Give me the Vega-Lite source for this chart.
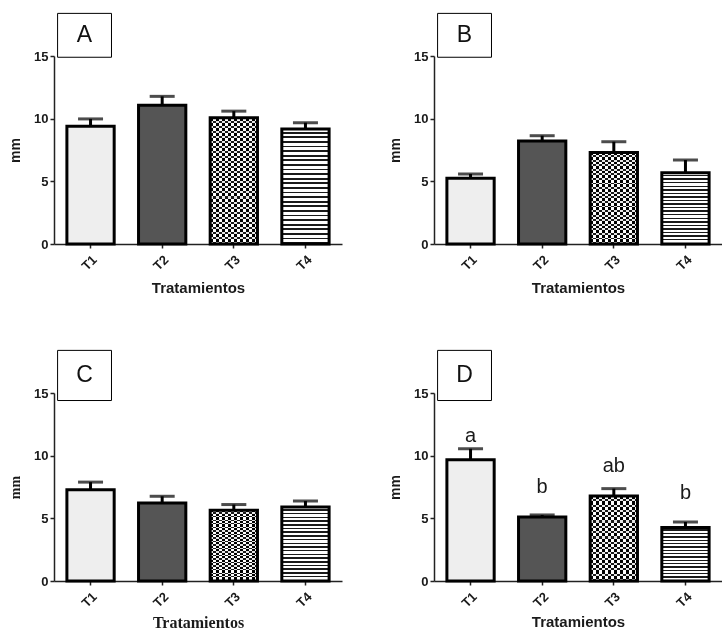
{
  "$schema": "https://vega.github.io/schema/vega-lite/v6.json",
  "padding": {"left": 8, "top": 12, "right": 0, "bottom": 0},
  "background": "white",
  "spacing": 53,
  "config": {
    "view": {"stroke": null},
    "axis": {
      "grid": false,
      "domainColor": "#222",
      "domainWidth": 1.5,
      "tickColor": "#222",
      "tickWidth": 1.5,
      "tickSize": 4,
      "labelFont": "Liberation Sans",
      "labelFontWeight": "bold",
      "labelFontSize": 13,
      "labelColor": "#1a1a1a",
      "titleFont": "Liberation Sans",
      "titleFontWeight": "bold",
      "titleColor": "#1a1a1a"
    },
    "axisX": {"labelAngle": -45, "labelPadding": 5, "titlePadding": 6, "titleFontSize": 15},
    "axisY": {"titleFontSize": 14, "titlePadding": 11, "labelPadding": 2}
  },
  "datasets": {
    "d": [
      {"p": "A", "t": "T1", "mean": 9.39, "hi": 9.98},
      {"p": "A", "t": "T2", "mean": 11.07, "hi": 11.78},
      {"p": "A", "t": "T3", "mean": 10.08, "hi": 10.6},
      {"p": "A", "t": "T4", "mean": 9.18, "hi": 9.68},
      {"p": "B", "t": "T1", "mean": 5.24, "hi": 5.59},
      {"p": "B", "t": "T2", "mean": 8.22, "hi": 8.64},
      {"p": "B", "t": "T3", "mean": 7.31, "hi": 8.16},
      {"p": "B", "t": "T4", "mean": 5.69, "hi": 6.7},
      {"p": "C", "t": "T1", "mean": 7.29, "hi": 7.89},
      {"p": "C", "t": "T2", "mean": 6.22, "hi": 6.76},
      {"p": "C", "t": "T3", "mean": 5.64, "hi": 6.1},
      {"p": "C", "t": "T4", "mean": 5.9, "hi": 6.38},
      {"p": "D", "t": "T1", "mean": 9.67, "hi": 10.55, "lab": "a", "laby": 11.6},
      {"p": "D", "t": "T2", "mean": 5.11, "hi": 5.27, "lab": "b", "laby": 7.5},
      {"p": "D", "t": "T3", "mean": 6.78, "hi": 7.37, "lab": "ab", "laby": 9.2},
      {"p": "D", "t": "T4", "mean": 4.27, "hi": 4.71, "lab": "b", "laby": 7.05}
    ]
  },
  "vconcat": [
    {
      "spacing": 46,
      "hconcat": [
        {
          "width": 288, "height": 188,
          "data": {"name": "d"},
          "transform": [{"filter": "datum.p === 'A'"}],
          "encoding": {"x": {"field": "t", "type": "nominal", "sort": ["T1", "T2", "T3", "T4"], "scale": {"paddingInner": 0.34, "paddingOuter": 0.18}, "axis": {"title": "Tratamientos", "titlePadding": 8}}},
          "layer": [
            {"mark": {"type": "rule", "strokeWidth": 3, "color": "black"}, "encoding": {"y": {"field": "mean", "type": "quantitative", "scale": {"domain": [0, 15], "nice": false}, "axis": {"title": "mm", "values": [0, 5, 10, 15]}}, "y2": {"field": "hi"}}},
            {"mark": {"type": "tick", "thickness": 3, "size": 25, "color": "black"}, "encoding": {"y": {"field": "hi", "type": "quantitative"}}},
            {"mark": {"type": "bar", "strokeWidth": 0}, "encoding": {"y": {"field": "mean", "type": "quantitative"},
              "fill": {"condition": [{"test": "datum.t === 'T1'", "value": "#eeeeee"}, {"test": "datum.t === 'T2'", "value": "#555555"}],
                "value": {"gradient": "linear", "x1": 0, "y1": 0, "x2": 0, "y2": 1, "stops": [
                  {"offset": 0.024, "color": "#fff"}, {"offset": 0.024, "color": "#1a1a1a"}, {"offset": 0.04, "color": "#1a1a1a"}, {"offset": 0.04, "color": "#fff"},
                  {"offset": 0.064, "color": "#fff"}, {"offset": 0.064, "color": "#1a1a1a"}, {"offset": 0.08, "color": "#1a1a1a"}, {"offset": 0.08, "color": "#fff"},
                  {"offset": 0.104, "color": "#fff"}, {"offset": 0.104, "color": "#1a1a1a"}, {"offset": 0.12, "color": "#1a1a1a"}, {"offset": 0.12, "color": "#fff"},
                  {"offset": 0.144, "color": "#fff"}, {"offset": 0.144, "color": "#1a1a1a"}, {"offset": 0.16, "color": "#1a1a1a"}, {"offset": 0.16, "color": "#fff"},
                  {"offset": 0.184, "color": "#fff"}, {"offset": 0.184, "color": "#1a1a1a"}, {"offset": 0.2, "color": "#1a1a1a"}, {"offset": 0.2, "color": "#fff"},
                  {"offset": 0.224, "color": "#fff"}, {"offset": 0.224, "color": "#1a1a1a"}, {"offset": 0.24, "color": "#1a1a1a"}, {"offset": 0.24, "color": "#fff"},
                  {"offset": 0.264, "color": "#fff"}, {"offset": 0.264, "color": "#1a1a1a"}, {"offset": 0.28, "color": "#1a1a1a"}, {"offset": 0.28, "color": "#fff"},
                  {"offset": 0.304, "color": "#fff"}, {"offset": 0.304, "color": "#1a1a1a"}, {"offset": 0.32, "color": "#1a1a1a"}, {"offset": 0.32, "color": "#fff"},
                  {"offset": 0.344, "color": "#fff"}, {"offset": 0.344, "color": "#1a1a1a"}, {"offset": 0.36, "color": "#1a1a1a"}, {"offset": 0.36, "color": "#fff"},
                  {"offset": 0.384, "color": "#fff"}, {"offset": 0.384, "color": "#1a1a1a"}, {"offset": 0.4, "color": "#1a1a1a"}, {"offset": 0.4, "color": "#fff"},
                  {"offset": 0.424, "color": "#fff"}, {"offset": 0.424, "color": "#1a1a1a"}, {"offset": 0.44, "color": "#1a1a1a"}, {"offset": 0.44, "color": "#fff"},
                  {"offset": 0.464, "color": "#fff"}, {"offset": 0.464, "color": "#1a1a1a"}, {"offset": 0.48, "color": "#1a1a1a"}, {"offset": 0.48, "color": "#fff"},
                  {"offset": 0.504, "color": "#fff"}, {"offset": 0.504, "color": "#1a1a1a"}, {"offset": 0.52, "color": "#1a1a1a"}, {"offset": 0.52, "color": "#fff"},
                  {"offset": 0.544, "color": "#fff"}, {"offset": 0.544, "color": "#1a1a1a"}, {"offset": 0.56, "color": "#1a1a1a"}, {"offset": 0.56, "color": "#fff"},
                  {"offset": 0.584, "color": "#fff"}, {"offset": 0.584, "color": "#1a1a1a"}, {"offset": 0.6, "color": "#1a1a1a"}, {"offset": 0.6, "color": "#fff"},
                  {"offset": 0.624, "color": "#fff"}, {"offset": 0.624, "color": "#1a1a1a"}, {"offset": 0.64, "color": "#1a1a1a"}, {"offset": 0.64, "color": "#fff"},
                  {"offset": 0.664, "color": "#fff"}, {"offset": 0.664, "color": "#1a1a1a"}, {"offset": 0.68, "color": "#1a1a1a"}, {"offset": 0.68, "color": "#fff"},
                  {"offset": 0.704, "color": "#fff"}, {"offset": 0.704, "color": "#1a1a1a"}, {"offset": 0.72, "color": "#1a1a1a"}, {"offset": 0.72, "color": "#fff"},
                  {"offset": 0.744, "color": "#fff"}, {"offset": 0.744, "color": "#1a1a1a"}, {"offset": 0.76, "color": "#1a1a1a"}, {"offset": 0.76, "color": "#fff"},
                  {"offset": 0.784, "color": "#fff"}, {"offset": 0.784, "color": "#1a1a1a"}, {"offset": 0.8, "color": "#1a1a1a"}, {"offset": 0.8, "color": "#fff"},
                  {"offset": 0.824, "color": "#fff"}, {"offset": 0.824, "color": "#1a1a1a"}, {"offset": 0.84, "color": "#1a1a1a"}, {"offset": 0.84, "color": "#fff"},
                  {"offset": 0.864, "color": "#fff"}, {"offset": 0.864, "color": "#1a1a1a"}, {"offset": 0.88, "color": "#1a1a1a"}, {"offset": 0.88, "color": "#fff"},
                  {"offset": 0.904, "color": "#fff"}, {"offset": 0.904, "color": "#1a1a1a"}, {"offset": 0.92, "color": "#1a1a1a"}, {"offset": 0.92, "color": "#fff"},
                  {"offset": 0.944, "color": "#fff"}, {"offset": 0.944, "color": "#1a1a1a"}, {"offset": 0.96, "color": "#1a1a1a"}, {"offset": 0.96, "color": "#fff"},
                  {"offset": 0.984, "color": "#fff"}, {"offset": 0.984, "color": "#1a1a1a"}, {"offset": 1, "color": "#1a1a1a"}
                ]}}}},
            {"transform": [{"filter": "datum.t === 'T3'"}], "mark": {"type": "bar", "strokeWidth": 0, "blend": "difference",
              "fill": {"gradient": "linear", "x1": 0, "y1": 0, "x2": 1, "y2": 0, "stops": [
                {"offset": 0.0625, "color": "#fff"}, {"offset": 0.0625, "color": "#000"}, {"offset": 0.125, "color": "#000"}, {"offset": 0.125, "color": "#fff"},
                {"offset": 0.1875, "color": "#fff"}, {"offset": 0.1875, "color": "#000"}, {"offset": 0.25, "color": "#000"}, {"offset": 0.25, "color": "#fff"},
                {"offset": 0.3125, "color": "#fff"}, {"offset": 0.3125, "color": "#000"}, {"offset": 0.375, "color": "#000"}, {"offset": 0.375, "color": "#fff"},
                {"offset": 0.4375, "color": "#fff"}, {"offset": 0.4375, "color": "#000"}, {"offset": 0.5, "color": "#000"}, {"offset": 0.5, "color": "#fff"},
                {"offset": 0.5625, "color": "#fff"}, {"offset": 0.5625, "color": "#000"}, {"offset": 0.625, "color": "#000"}, {"offset": 0.625, "color": "#fff"},
                {"offset": 0.6875, "color": "#fff"}, {"offset": 0.6875, "color": "#000"}, {"offset": 0.75, "color": "#000"}, {"offset": 0.75, "color": "#fff"},
                {"offset": 0.8125, "color": "#fff"}, {"offset": 0.8125, "color": "#000"}, {"offset": 0.875, "color": "#000"}, {"offset": 0.875, "color": "#fff"},
                {"offset": 0.9375, "color": "#fff"}, {"offset": 0.9375, "color": "#000"}, {"offset": 1, "color": "#000"}
              ]}}, "encoding": {"y": {"field": "mean", "type": "quantitative"}}},
            {"mark": {"type": "bar", "fill": "transparent", "stroke": "black", "strokeWidth": 3}, "encoding": {"y": {"field": "mean", "type": "quantitative"}}},
            {"transform": [{"filter": "datum.t === 'T1'"}], "mark": {"type": "bar", "fill": "white", "stroke": "black", "strokeWidth": 1, "width": {"band": 1.14}, "xOffset": -6, "clip": false}, "encoding": {"x": {"datum": "T1"}, "y": {"datum": 14.9}, "y2": {"datum": 18.4}}},
            {"transform": [{"filter": "datum.t === 'T1'"}], "mark": {"type": "text", "fontSize": 23, "font": "Liberation Sans", "color": "#111", "xOffset": -6}, "encoding": {"x": {"datum": "T1"}, "y": {"datum": 16.65}, "text": {"value": "A"}}}
          ]
        },
        {
          "width": 288, "height": 188,
          "data": {"name": "d"},
          "transform": [{"filter": "datum.p === 'B'"}],
          "encoding": {"x": {"field": "t", "type": "nominal", "sort": ["T1", "T2", "T3", "T4"], "scale": {"paddingInner": 0.34, "paddingOuter": 0.18}, "axis": {"title": "Tratamientos", "titlePadding": 8}}},
          "layer": [
            {"mark": {"type": "rule", "strokeWidth": 3, "color": "black"}, "encoding": {"y": {"field": "mean", "type": "quantitative", "scale": {"domain": [0, 15], "nice": false}, "axis": {"title": "mm", "values": [0, 5, 10, 15]}}, "y2": {"field": "hi"}}},
            {"mark": {"type": "tick", "thickness": 3, "size": 25, "color": "black"}, "encoding": {"y": {"field": "hi", "type": "quantitative"}}},
            {"mark": {"type": "bar", "strokeWidth": 0}, "encoding": {"y": {"field": "mean", "type": "quantitative"},
              "fill": {"condition": [{"test": "datum.t === 'T1'", "value": "#eeeeee"}, {"test": "datum.t === 'T2'", "value": "#555555"}],
                "value": {"gradient": "linear", "x1": 0, "y1": 0, "x2": 0, "y2": 1, "stops": [
                  {"offset": 0.03, "color": "#fff"}, {"offset": 0.03, "color": "#1a1a1a"}, {"offset": 0.05, "color": "#1a1a1a"}, {"offset": 0.05, "color": "#fff"},
                  {"offset": 0.08, "color": "#fff"}, {"offset": 0.08, "color": "#1a1a1a"}, {"offset": 0.1, "color": "#1a1a1a"}, {"offset": 0.1, "color": "#fff"},
                  {"offset": 0.13, "color": "#fff"}, {"offset": 0.13, "color": "#1a1a1a"}, {"offset": 0.15, "color": "#1a1a1a"}, {"offset": 0.15, "color": "#fff"},
                  {"offset": 0.18, "color": "#fff"}, {"offset": 0.18, "color": "#1a1a1a"}, {"offset": 0.2, "color": "#1a1a1a"}, {"offset": 0.2, "color": "#fff"},
                  {"offset": 0.23, "color": "#fff"}, {"offset": 0.23, "color": "#1a1a1a"}, {"offset": 0.25, "color": "#1a1a1a"}, {"offset": 0.25, "color": "#fff"},
                  {"offset": 0.28, "color": "#fff"}, {"offset": 0.28, "color": "#1a1a1a"}, {"offset": 0.3, "color": "#1a1a1a"}, {"offset": 0.3, "color": "#fff"},
                  {"offset": 0.33, "color": "#fff"}, {"offset": 0.33, "color": "#1a1a1a"}, {"offset": 0.35, "color": "#1a1a1a"}, {"offset": 0.35, "color": "#fff"},
                  {"offset": 0.38, "color": "#fff"}, {"offset": 0.38, "color": "#1a1a1a"}, {"offset": 0.4, "color": "#1a1a1a"}, {"offset": 0.4, "color": "#fff"},
                  {"offset": 0.43, "color": "#fff"}, {"offset": 0.43, "color": "#1a1a1a"}, {"offset": 0.45, "color": "#1a1a1a"}, {"offset": 0.45, "color": "#fff"},
                  {"offset": 0.48, "color": "#fff"}, {"offset": 0.48, "color": "#1a1a1a"}, {"offset": 0.5, "color": "#1a1a1a"}, {"offset": 0.5, "color": "#fff"},
                  {"offset": 0.53, "color": "#fff"}, {"offset": 0.53, "color": "#1a1a1a"}, {"offset": 0.55, "color": "#1a1a1a"}, {"offset": 0.55, "color": "#fff"},
                  {"offset": 0.58, "color": "#fff"}, {"offset": 0.58, "color": "#1a1a1a"}, {"offset": 0.6, "color": "#1a1a1a"}, {"offset": 0.6, "color": "#fff"},
                  {"offset": 0.63, "color": "#fff"}, {"offset": 0.63, "color": "#1a1a1a"}, {"offset": 0.65, "color": "#1a1a1a"}, {"offset": 0.65, "color": "#fff"},
                  {"offset": 0.68, "color": "#fff"}, {"offset": 0.68, "color": "#1a1a1a"}, {"offset": 0.7, "color": "#1a1a1a"}, {"offset": 0.7, "color": "#fff"},
                  {"offset": 0.73, "color": "#fff"}, {"offset": 0.73, "color": "#1a1a1a"}, {"offset": 0.75, "color": "#1a1a1a"}, {"offset": 0.75, "color": "#fff"},
                  {"offset": 0.78, "color": "#fff"}, {"offset": 0.78, "color": "#1a1a1a"}, {"offset": 0.8, "color": "#1a1a1a"}, {"offset": 0.8, "color": "#fff"},
                  {"offset": 0.83, "color": "#fff"}, {"offset": 0.83, "color": "#1a1a1a"}, {"offset": 0.85, "color": "#1a1a1a"}, {"offset": 0.85, "color": "#fff"},
                  {"offset": 0.88, "color": "#fff"}, {"offset": 0.88, "color": "#1a1a1a"}, {"offset": 0.9, "color": "#1a1a1a"}, {"offset": 0.9, "color": "#fff"},
                  {"offset": 0.93, "color": "#fff"}, {"offset": 0.93, "color": "#1a1a1a"}, {"offset": 0.95, "color": "#1a1a1a"}, {"offset": 0.95, "color": "#fff"},
                  {"offset": 0.98, "color": "#fff"}, {"offset": 0.98, "color": "#1a1a1a"}, {"offset": 1, "color": "#1a1a1a"}
                ]}}}},
            {"transform": [{"filter": "datum.t === 'T3'"}], "mark": {"type": "bar", "strokeWidth": 0, "blend": "difference",
              "fill": {"gradient": "linear", "x1": 0, "y1": 0, "x2": 1, "y2": 0, "stops": [
                {"offset": 0.0625, "color": "#fff"}, {"offset": 0.0625, "color": "#000"}, {"offset": 0.125, "color": "#000"}, {"offset": 0.125, "color": "#fff"},
                {"offset": 0.1875, "color": "#fff"}, {"offset": 0.1875, "color": "#000"}, {"offset": 0.25, "color": "#000"}, {"offset": 0.25, "color": "#fff"},
                {"offset": 0.3125, "color": "#fff"}, {"offset": 0.3125, "color": "#000"}, {"offset": 0.375, "color": "#000"}, {"offset": 0.375, "color": "#fff"},
                {"offset": 0.4375, "color": "#fff"}, {"offset": 0.4375, "color": "#000"}, {"offset": 0.5, "color": "#000"}, {"offset": 0.5, "color": "#fff"},
                {"offset": 0.5625, "color": "#fff"}, {"offset": 0.5625, "color": "#000"}, {"offset": 0.625, "color": "#000"}, {"offset": 0.625, "color": "#fff"},
                {"offset": 0.6875, "color": "#fff"}, {"offset": 0.6875, "color": "#000"}, {"offset": 0.75, "color": "#000"}, {"offset": 0.75, "color": "#fff"},
                {"offset": 0.8125, "color": "#fff"}, {"offset": 0.8125, "color": "#000"}, {"offset": 0.875, "color": "#000"}, {"offset": 0.875, "color": "#fff"},
                {"offset": 0.9375, "color": "#fff"}, {"offset": 0.9375, "color": "#000"}, {"offset": 1, "color": "#000"}
              ]}}, "encoding": {"y": {"field": "mean", "type": "quantitative"}}},
            {"mark": {"type": "bar", "fill": "transparent", "stroke": "black", "strokeWidth": 3}, "encoding": {"y": {"field": "mean", "type": "quantitative"}}},
            {"transform": [{"filter": "datum.t === 'T1'"}], "mark": {"type": "bar", "fill": "white", "stroke": "black", "strokeWidth": 1, "width": {"band": 1.14}, "xOffset": -6, "clip": false}, "encoding": {"x": {"datum": "T1"}, "y": {"datum": 14.9}, "y2": {"datum": 18.4}}},
            {"transform": [{"filter": "datum.t === 'T1'"}], "mark": {"type": "text", "fontSize": 23, "font": "Liberation Sans", "color": "#111", "xOffset": -6}, "encoding": {"x": {"datum": "T1"}, "y": {"datum": 16.65}, "text": {"value": "B"}}}
          ]
        }
      ]
    },
    {
      "spacing": 46,
      "hconcat": [
        {
          "width": 288, "height": 188,
          "data": {"name": "d"},
          "transform": [{"filter": "datum.p === 'C'"}],
          "encoding": {"x": {"field": "t", "type": "nominal", "sort": ["T1", "T2", "T3", "T4"], "scale": {"paddingInner": 0.34, "paddingOuter": 0.18}, "axis": {"title": "Tratamientos", "titleFont": "Liberation Serif", "titleFontSize": 16, "titlePadding": 5}}},
          "layer": [
            {"mark": {"type": "rule", "strokeWidth": 3, "color": "black"}, "encoding": {"y": {"field": "mean", "type": "quantitative", "scale": {"domain": [0, 15], "nice": false}, "axis": {"title": "mm", "titleFont": "Liberation Serif", "values": [0, 5, 10, 15]}}, "y2": {"field": "hi"}}},
            {"mark": {"type": "tick", "thickness": 3, "size": 25, "color": "black"}, "encoding": {"y": {"field": "hi", "type": "quantitative"}}},
            {"mark": {"type": "bar", "strokeWidth": 0}, "encoding": {"y": {"field": "mean", "type": "quantitative"},
              "fill": {"condition": [{"test": "datum.t === 'T1'", "value": "#eeeeee"}, {"test": "datum.t === 'T2'", "value": "#555555"}],
                "value": {"gradient": "linear", "x1": 0, "y1": 0, "x2": 0, "y2": 1, "stops": [
                  {"offset": 0.03, "color": "#fff"}, {"offset": 0.03, "color": "#1a1a1a"}, {"offset": 0.05, "color": "#1a1a1a"}, {"offset": 0.05, "color": "#fff"},
                  {"offset": 0.08, "color": "#fff"}, {"offset": 0.08, "color": "#1a1a1a"}, {"offset": 0.1, "color": "#1a1a1a"}, {"offset": 0.1, "color": "#fff"},
                  {"offset": 0.13, "color": "#fff"}, {"offset": 0.13, "color": "#1a1a1a"}, {"offset": 0.15, "color": "#1a1a1a"}, {"offset": 0.15, "color": "#fff"},
                  {"offset": 0.18, "color": "#fff"}, {"offset": 0.18, "color": "#1a1a1a"}, {"offset": 0.2, "color": "#1a1a1a"}, {"offset": 0.2, "color": "#fff"},
                  {"offset": 0.23, "color": "#fff"}, {"offset": 0.23, "color": "#1a1a1a"}, {"offset": 0.25, "color": "#1a1a1a"}, {"offset": 0.25, "color": "#fff"},
                  {"offset": 0.28, "color": "#fff"}, {"offset": 0.28, "color": "#1a1a1a"}, {"offset": 0.3, "color": "#1a1a1a"}, {"offset": 0.3, "color": "#fff"},
                  {"offset": 0.33, "color": "#fff"}, {"offset": 0.33, "color": "#1a1a1a"}, {"offset": 0.35, "color": "#1a1a1a"}, {"offset": 0.35, "color": "#fff"},
                  {"offset": 0.38, "color": "#fff"}, {"offset": 0.38, "color": "#1a1a1a"}, {"offset": 0.4, "color": "#1a1a1a"}, {"offset": 0.4, "color": "#fff"},
                  {"offset": 0.43, "color": "#fff"}, {"offset": 0.43, "color": "#1a1a1a"}, {"offset": 0.45, "color": "#1a1a1a"}, {"offset": 0.45, "color": "#fff"},
                  {"offset": 0.48, "color": "#fff"}, {"offset": 0.48, "color": "#1a1a1a"}, {"offset": 0.5, "color": "#1a1a1a"}, {"offset": 0.5, "color": "#fff"},
                  {"offset": 0.53, "color": "#fff"}, {"offset": 0.53, "color": "#1a1a1a"}, {"offset": 0.55, "color": "#1a1a1a"}, {"offset": 0.55, "color": "#fff"},
                  {"offset": 0.58, "color": "#fff"}, {"offset": 0.58, "color": "#1a1a1a"}, {"offset": 0.6, "color": "#1a1a1a"}, {"offset": 0.6, "color": "#fff"},
                  {"offset": 0.63, "color": "#fff"}, {"offset": 0.63, "color": "#1a1a1a"}, {"offset": 0.65, "color": "#1a1a1a"}, {"offset": 0.65, "color": "#fff"},
                  {"offset": 0.68, "color": "#fff"}, {"offset": 0.68, "color": "#1a1a1a"}, {"offset": 0.7, "color": "#1a1a1a"}, {"offset": 0.7, "color": "#fff"},
                  {"offset": 0.73, "color": "#fff"}, {"offset": 0.73, "color": "#1a1a1a"}, {"offset": 0.75, "color": "#1a1a1a"}, {"offset": 0.75, "color": "#fff"},
                  {"offset": 0.78, "color": "#fff"}, {"offset": 0.78, "color": "#1a1a1a"}, {"offset": 0.8, "color": "#1a1a1a"}, {"offset": 0.8, "color": "#fff"},
                  {"offset": 0.83, "color": "#fff"}, {"offset": 0.83, "color": "#1a1a1a"}, {"offset": 0.85, "color": "#1a1a1a"}, {"offset": 0.85, "color": "#fff"},
                  {"offset": 0.88, "color": "#fff"}, {"offset": 0.88, "color": "#1a1a1a"}, {"offset": 0.9, "color": "#1a1a1a"}, {"offset": 0.9, "color": "#fff"},
                  {"offset": 0.93, "color": "#fff"}, {"offset": 0.93, "color": "#1a1a1a"}, {"offset": 0.95, "color": "#1a1a1a"}, {"offset": 0.95, "color": "#fff"},
                  {"offset": 0.98, "color": "#fff"}, {"offset": 0.98, "color": "#1a1a1a"}, {"offset": 1, "color": "#1a1a1a"}
                ]}}}},
            {"transform": [{"filter": "datum.t === 'T3'"}], "mark": {"type": "bar", "strokeWidth": 0, "blend": "difference",
              "fill": {"gradient": "linear", "x1": 0, "y1": 0, "x2": 1, "y2": 0, "stops": [
                {"offset": 0.0625, "color": "#fff"}, {"offset": 0.0625, "color": "#000"}, {"offset": 0.125, "color": "#000"}, {"offset": 0.125, "color": "#fff"},
                {"offset": 0.1875, "color": "#fff"}, {"offset": 0.1875, "color": "#000"}, {"offset": 0.25, "color": "#000"}, {"offset": 0.25, "color": "#fff"},
                {"offset": 0.3125, "color": "#fff"}, {"offset": 0.3125, "color": "#000"}, {"offset": 0.375, "color": "#000"}, {"offset": 0.375, "color": "#fff"},
                {"offset": 0.4375, "color": "#fff"}, {"offset": 0.4375, "color": "#000"}, {"offset": 0.5, "color": "#000"}, {"offset": 0.5, "color": "#fff"},
                {"offset": 0.5625, "color": "#fff"}, {"offset": 0.5625, "color": "#000"}, {"offset": 0.625, "color": "#000"}, {"offset": 0.625, "color": "#fff"},
                {"offset": 0.6875, "color": "#fff"}, {"offset": 0.6875, "color": "#000"}, {"offset": 0.75, "color": "#000"}, {"offset": 0.75, "color": "#fff"},
                {"offset": 0.8125, "color": "#fff"}, {"offset": 0.8125, "color": "#000"}, {"offset": 0.875, "color": "#000"}, {"offset": 0.875, "color": "#fff"},
                {"offset": 0.9375, "color": "#fff"}, {"offset": 0.9375, "color": "#000"}, {"offset": 1, "color": "#000"}
              ]}}, "encoding": {"y": {"field": "mean", "type": "quantitative"}}},
            {"mark": {"type": "bar", "fill": "transparent", "stroke": "black", "strokeWidth": 3}, "encoding": {"y": {"field": "mean", "type": "quantitative"}}},
            {"transform": [{"filter": "datum.t === 'T1'"}], "mark": {"type": "bar", "fill": "white", "stroke": "black", "strokeWidth": 1, "width": {"band": 1.14}, "xOffset": -6, "clip": false}, "encoding": {"x": {"datum": "T1"}, "y": {"datum": 14.4}, "y2": {"datum": 18.4}}},
            {"transform": [{"filter": "datum.t === 'T1'"}], "mark": {"type": "text", "fontSize": 23, "font": "Liberation Sans", "color": "#111", "xOffset": -6}, "encoding": {"x": {"datum": "T1"}, "y": {"datum": 16.4}, "text": {"value": "C"}}}
          ]
        },
        {
          "width": 288, "height": 188,
          "data": {"name": "d"},
          "transform": [{"filter": "datum.p === 'D'"}],
          "encoding": {"x": {"field": "t", "type": "nominal", "sort": ["T1", "T2", "T3", "T4"], "scale": {"paddingInner": 0.34, "paddingOuter": 0.18}, "axis": {"title": "Tratamientos", "titlePadding": 5}}},
          "layer": [
            {"mark": {"type": "rule", "strokeWidth": 3, "color": "black"}, "encoding": {"y": {"field": "mean", "type": "quantitative", "scale": {"domain": [0, 15], "nice": false}, "axis": {"title": "mm", "values": [0, 5, 10, 15]}}, "y2": {"field": "hi"}}},
            {"mark": {"type": "tick", "thickness": 3, "size": 25, "color": "black"}, "encoding": {"y": {"field": "hi", "type": "quantitative"}}},
            {"mark": {"type": "bar", "strokeWidth": 0}, "encoding": {"y": {"field": "mean", "type": "quantitative"},
              "fill": {"condition": [{"test": "datum.t === 'T1'", "value": "#eeeeee"}, {"test": "datum.t === 'T2'", "value": "#555555"}],
                "value": {"gradient": "linear", "x1": 0, "y1": 0, "x2": 0, "y2": 1, "stops": [
                  {"offset": 0.0375, "color": "#fff"}, {"offset": 0.0375, "color": "#1a1a1a"}, {"offset": 0.0625, "color": "#1a1a1a"}, {"offset": 0.0625, "color": "#fff"},
                  {"offset": 0.1, "color": "#fff"}, {"offset": 0.1, "color": "#1a1a1a"}, {"offset": 0.125, "color": "#1a1a1a"}, {"offset": 0.125, "color": "#fff"},
                  {"offset": 0.1625, "color": "#fff"}, {"offset": 0.1625, "color": "#1a1a1a"}, {"offset": 0.1875, "color": "#1a1a1a"}, {"offset": 0.1875, "color": "#fff"},
                  {"offset": 0.225, "color": "#fff"}, {"offset": 0.225, "color": "#1a1a1a"}, {"offset": 0.25, "color": "#1a1a1a"}, {"offset": 0.25, "color": "#fff"},
                  {"offset": 0.2875, "color": "#fff"}, {"offset": 0.2875, "color": "#1a1a1a"}, {"offset": 0.3125, "color": "#1a1a1a"}, {"offset": 0.3125, "color": "#fff"},
                  {"offset": 0.35, "color": "#fff"}, {"offset": 0.35, "color": "#1a1a1a"}, {"offset": 0.375, "color": "#1a1a1a"}, {"offset": 0.375, "color": "#fff"},
                  {"offset": 0.4125, "color": "#fff"}, {"offset": 0.4125, "color": "#1a1a1a"}, {"offset": 0.4375, "color": "#1a1a1a"}, {"offset": 0.4375, "color": "#fff"},
                  {"offset": 0.475, "color": "#fff"}, {"offset": 0.475, "color": "#1a1a1a"}, {"offset": 0.5, "color": "#1a1a1a"}, {"offset": 0.5, "color": "#fff"},
                  {"offset": 0.5375, "color": "#fff"}, {"offset": 0.5375, "color": "#1a1a1a"}, {"offset": 0.5625, "color": "#1a1a1a"}, {"offset": 0.5625, "color": "#fff"},
                  {"offset": 0.6, "color": "#fff"}, {"offset": 0.6, "color": "#1a1a1a"}, {"offset": 0.625, "color": "#1a1a1a"}, {"offset": 0.625, "color": "#fff"},
                  {"offset": 0.6625, "color": "#fff"}, {"offset": 0.6625, "color": "#1a1a1a"}, {"offset": 0.6875, "color": "#1a1a1a"}, {"offset": 0.6875, "color": "#fff"},
                  {"offset": 0.725, "color": "#fff"}, {"offset": 0.725, "color": "#1a1a1a"}, {"offset": 0.75, "color": "#1a1a1a"}, {"offset": 0.75, "color": "#fff"},
                  {"offset": 0.7875, "color": "#fff"}, {"offset": 0.7875, "color": "#1a1a1a"}, {"offset": 0.8125, "color": "#1a1a1a"}, {"offset": 0.8125, "color": "#fff"},
                  {"offset": 0.85, "color": "#fff"}, {"offset": 0.85, "color": "#1a1a1a"}, {"offset": 0.875, "color": "#1a1a1a"}, {"offset": 0.875, "color": "#fff"},
                  {"offset": 0.9125, "color": "#fff"}, {"offset": 0.9125, "color": "#1a1a1a"}, {"offset": 0.9375, "color": "#1a1a1a"}, {"offset": 0.9375, "color": "#fff"},
                  {"offset": 0.975, "color": "#fff"}, {"offset": 0.975, "color": "#1a1a1a"}, {"offset": 1, "color": "#1a1a1a"}
                ]}}}},
            {"transform": [{"filter": "datum.t === 'T3'"}], "mark": {"type": "bar", "strokeWidth": 0, "blend": "difference",
              "fill": {"gradient": "linear", "x1": 0, "y1": 0, "x2": 1, "y2": 0, "stops": [
                {"offset": 0.0625, "color": "#fff"}, {"offset": 0.0625, "color": "#000"}, {"offset": 0.125, "color": "#000"}, {"offset": 0.125, "color": "#fff"},
                {"offset": 0.1875, "color": "#fff"}, {"offset": 0.1875, "color": "#000"}, {"offset": 0.25, "color": "#000"}, {"offset": 0.25, "color": "#fff"},
                {"offset": 0.3125, "color": "#fff"}, {"offset": 0.3125, "color": "#000"}, {"offset": 0.375, "color": "#000"}, {"offset": 0.375, "color": "#fff"},
                {"offset": 0.4375, "color": "#fff"}, {"offset": 0.4375, "color": "#000"}, {"offset": 0.5, "color": "#000"}, {"offset": 0.5, "color": "#fff"},
                {"offset": 0.5625, "color": "#fff"}, {"offset": 0.5625, "color": "#000"}, {"offset": 0.625, "color": "#000"}, {"offset": 0.625, "color": "#fff"},
                {"offset": 0.6875, "color": "#fff"}, {"offset": 0.6875, "color": "#000"}, {"offset": 0.75, "color": "#000"}, {"offset": 0.75, "color": "#fff"},
                {"offset": 0.8125, "color": "#fff"}, {"offset": 0.8125, "color": "#000"}, {"offset": 0.875, "color": "#000"}, {"offset": 0.875, "color": "#fff"},
                {"offset": 0.9375, "color": "#fff"}, {"offset": 0.9375, "color": "#000"}, {"offset": 1, "color": "#000"}
              ]}}, "encoding": {"y": {"field": "mean", "type": "quantitative"}}},
            {"mark": {"type": "bar", "fill": "transparent", "stroke": "black", "strokeWidth": 3}, "encoding": {"y": {"field": "mean", "type": "quantitative"}}},
            {"transform": [{"filter": "datum.lab"}], "mark": {"type": "text", "fontSize": 20, "font": "Liberation Sans", "color": "#1a1a1a"}, "encoding": {"y": {"field": "laby", "type": "quantitative"}, "text": {"field": "lab"}}},
            {"transform": [{"filter": "datum.t === 'T1'"}], "mark": {"type": "bar", "fill": "white", "stroke": "black", "strokeWidth": 1, "width": {"band": 1.14}, "xOffset": -6, "clip": false}, "encoding": {"x": {"datum": "T1"}, "y": {"datum": 14.4}, "y2": {"datum": 18.4}}},
            {"transform": [{"filter": "datum.t === 'T1'"}], "mark": {"type": "text", "fontSize": 23, "font": "Liberation Sans", "color": "#111", "xOffset": -6}, "encoding": {"x": {"datum": "T1"}, "y": {"datum": 16.4}, "text": {"value": "D"}}}
          ]
        }
      ]
    }
  ]
}
